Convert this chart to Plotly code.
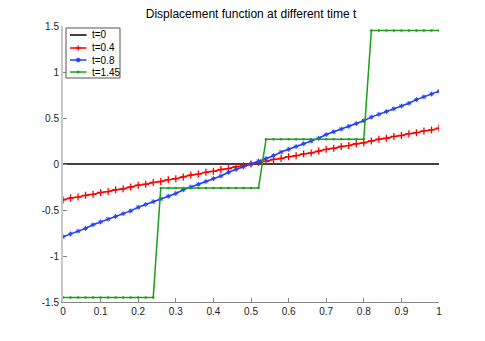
import plotly.graph_objects as go

# x grid (51 points)
x = [round(i * 0.02, 2) for i in range(51)]

t0 = [0.0] * 51

t04 = [-0.39, -0.37, -0.36, -0.34, -0.33, -0.31, -0.30, -0.28, -0.27, -0.25,
       -0.23, -0.22, -0.20, -0.19, -0.17, -0.16, -0.14, -0.12, -0.11, -0.09,
       -0.08, -0.06, -0.05, -0.03, -0.02, 0.00, 0.02, 0.03, 0.05, 0.06,
       0.08, 0.09, 0.11, 0.12, 0.14, 0.16, 0.17, 0.19, 0.20, 0.22,
       0.23, 0.25, 0.27, 0.28, 0.30, 0.31, 0.33, 0.34, 0.36, 0.37, 0.39]

t08 = [-0.79, -0.76, -0.73, -0.70, -0.66, -0.63, -0.60, -0.57, -0.54, -0.51,
       -0.47, -0.44, -0.41, -0.38, -0.35, -0.32, -0.28, -0.25, -0.22, -0.19,
       -0.16, -0.13, -0.09, -0.06, -0.03, 0.00, 0.03, 0.06, 0.09, 0.13,
       0.16, 0.19, 0.22, 0.25, 0.28, 0.32, 0.35, 0.38, 0.41, 0.44,
       0.47, 0.51, 0.54, 0.57, 0.60, 0.63, 0.66, 0.70, 0.73, 0.76, 0.79]

t145 = [-1.45, -1.45, -1.45, -1.45, -1.45, -1.45, -1.45, -1.45, -1.45, -1.45,
        -1.45, -1.45, -1.45, -0.26, -0.26, -0.26, -0.26, -0.26, -0.26, -0.26,
        -0.26, -0.26, -0.26, -0.26, -0.26, -0.26, -0.26, 0.27, 0.27, 0.27,
        0.27, 0.27, 0.27, 0.27, 0.27, 0.27, 0.27, 0.27, 0.27, 0.27,
        0.27, 1.45, 1.45, 1.45, 1.45, 1.45, 1.45, 1.45, 1.45, 1.45, 1.45]

names = ["t=0", "t=0.4", "t=0.8", "t=1.45"]
colors = ["black", "#ff0000", "#2040ff", "#1aa01a"]

FONT = "Liberation Sans, Arial, Helvetica, sans-serif"

fig = go.Figure()
fig.add_trace(go.Scatter(x=x, y=t0, name=names[0], mode="lines",
                         line=dict(color=colors[0], width=1.5)))
fig.add_trace(go.Scatter(x=x, y=t04, name=names[1], mode="lines+markers",
                         line=dict(color=colors[1], width=1.5),
                         marker=dict(symbol="cross-thin", size=5,
                                     line=dict(color=colors[1], width=1.3))))
fig.add_trace(go.Scatter(x=x, y=t08, name=names[2], mode="lines+markers",
                         line=dict(color=colors[2], width=1.5),
                         marker=dict(symbol="asterisk", size=4, color=colors[2],
                                     line=dict(color=colors[2], width=1))))
fig.add_trace(go.Scatter(x=x, y=t145, name=names[3], mode="lines+markers",
                         line=dict(color=colors[3], width=1.5),
                         marker=dict(symbol="circle", size=2.5, color=colors[3])))

# hand-made compact legend (matlab style), in plot-area paper coordinates
shapes = [dict(type="rect", xref="paper", yref="paper",
               x0=0.008, x1=0.1516, y0=0.8116, y1=0.9928,
               line=dict(color="#555555", width=1), fillcolor="white", layer="above")]
annotations = []
rows = [0.9674, 0.9203, 0.8768, 0.8333]
for i, (nm, col) in enumerate(zip(names, colors)):
    yy = rows[i]
    shapes.append(dict(type="line", xref="paper", yref="paper",
                       x0=0.0186, x1=0.0625, y0=yy, y1=yy,
                       line=dict(color=col, width=1.5), layer="above"))
    annotations.append(dict(text=nm, xref="paper", yref="paper", x=0.0705, y=yy,
                            xanchor="left", yanchor="middle", showarrow=False,
                            font=dict(family=FONT, size=10, color="black")))
    if i == 1:
        for dx, dy in [((-2.5, 2.5), (0, 0)), ((0, 0), (-2.5, 2.5))]:
            shapes.append(dict(type="line", xref="paper", yref="paper",
                               xsizemode="pixel", ysizemode="pixel",
                               xanchor=0.0405, yanchor=yy,
                               x0=dx[0], x1=dx[1], y0=dy[0], y1=dy[1],
                               line=dict(color=col, width=1.3), layer="above"))
    elif i >= 2:
        r = 2 if i == 2 else 1.2
        shapes.append(dict(type="circle", xref="paper", yref="paper",
                           xsizemode="pixel", ysizemode="pixel",
                           xanchor=0.0405, yanchor=yy,
                           x0=-r, x1=r, y0=-r, y1=r,
                           line=dict(color=col, width=0.5), fillcolor=col, layer="above"))

# page body has an 8px margin, so margins are shifted to keep the reference placement
fig.update_layout(
    width=485, height=341,
    margin=dict(l=55, r=54, t=18, b=47),
    paper_bgcolor="white", plot_bgcolor="white",
    font=dict(family=FONT, size=10, color="black"),
    title=dict(text="Displacement function at different time t",
               x=0.5, xref="paper", y=1 - 6 / 341, yref="container",
               xanchor="center", yanchor="middle",
               font=dict(family=FONT, size=12, color="black")),
    showlegend=False,
    shapes=shapes,
    annotations=annotations,
)
fig.update_xaxes(range=[0, 1], tickvals=[0, 0.1, 0.2, 0.3, 0.4, 0.5, 0.6, 0.7, 0.8, 0.9, 1],
                 ticktext=["0", "0.1", "0.2", "0.3", "0.4", "0.5", "0.6", "0.7", "0.8", "0.9", "1"],
                 showgrid=False, zeroline=False, showline=True, linecolor="#888888",
                 linewidth=1, ticks="inside", ticklen=4, tickcolor="#888888",
                 tickfont=dict(size=10, color="#222222"))
fig.update_yaxes(range=[-1.5, 1.5], tickvals=[-1.5, -1, -0.5, 0, 0.5, 1, 1.5],
                 ticktext=["-1.5", "-1", "-0.5", "0", "0.5", "1", "1.5"],
                 showgrid=False, zeroline=False, showline=True, linecolor="#c8c8c8",
                 linewidth=2, ticks="inside", ticklen=4, tickcolor="#888888",
                 tickfont=dict(size=10, color="#222222"))

fig.write_html("out.html")
